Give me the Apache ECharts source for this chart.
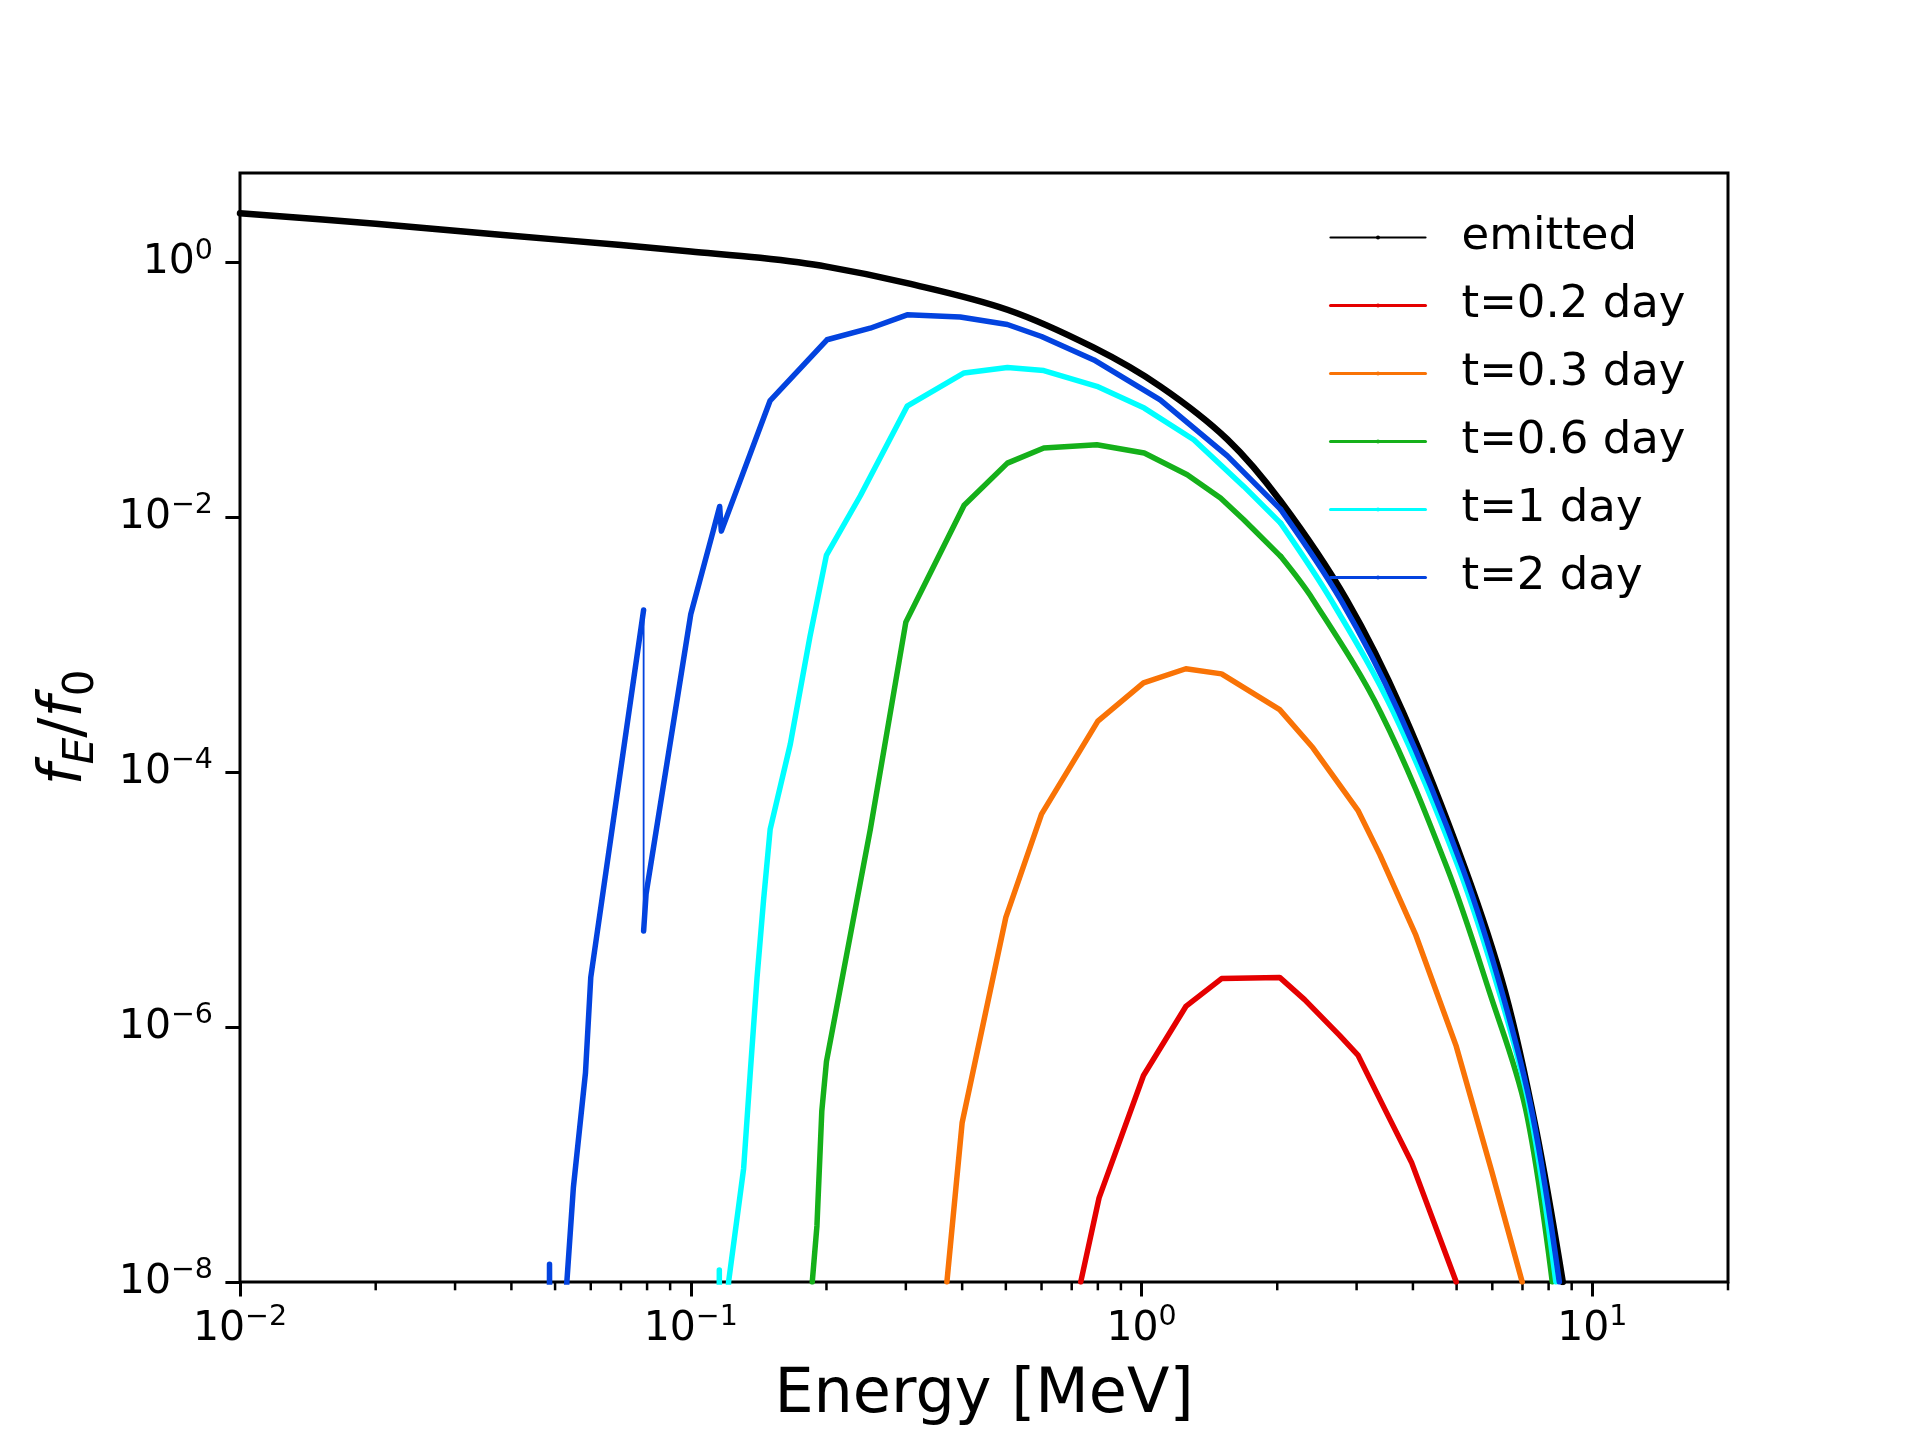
<!DOCTYPE html>
<html>
<head>
<meta charset="utf-8">
<script src="https://cdn.jsdelivr.net/npm/echarts@6/dist/echarts.min.js"></script>
<style>html,body{margin:0;padding:0;background:#fff}#c{width:1920px;height:1440px}</style>
</head>
<body>
<div id="c"></div>
<script>
// ---- axis ranges and ticks ----
const X_MIN = 0.01, X_MAX = 20;
const Y_MIN = 1e-8, Y_MAX = 5;
const X_MAJOR_TICKS = [0.01, 0.1, 1, 10];
const X_MINOR_TICKS = [0.02,0.03,0.04,0.05,0.06,0.07,0.08,0.09,0.2,0.3,0.4,0.5,0.6,0.7,0.8,0.9,2,3,4,5,6,7,8,9,20];
const Y_MAJOR_TICKS = [1e-8, 1e-6, 1e-4, 1e-2, 1];

// ---- series names / colours ----
const NAMES = ['emitted', 't=0.2 day', 't=0.3 day', 't=0.6 day', 't=1 day', 't=2 day'];
const COLORS = ['#000000', '#e50000', '#f97306', '#15b01a', '#00ffff', '#0343df'];

// ---- data: [energy MeV, f_E/f_0] ----
const EMITTED = [[0.01,2.42],[0.02,2.00],[0.0378,1.64],[0.07,1.36],[0.1,1.21],[0.1426,1.08],[0.2,0.922],[0.302,0.684],[0.504,0.423],[0.78,0.215],[1.10,0.106],[1.55,0.0407],[2.035,0.0133],[2.85,2.24e-3],[3.80,2.95e-4],[5.21,1.78e-5],[6.41,1.86e-6],[7.5,1.58e-7],[8.6,1e-8]];

const T02 = [[0.733,1e-8],[0.805,4.57e-8],[1.01,4.17e-7],[1.254,1.45e-6],[1.505,2.40e-6],[2.025,2.45e-6],[2.30,1.64e-6],[2.75,8.61e-7],[3.02,6.03e-7],[3.46,2.29e-7],[3.97,8.71e-8],[4.99,1e-8]];

const T03 = [[0.37,1e-8],[0.4,1.78e-7],[0.5,7.24e-6],[0.6,4.68e-5],[0.8,2.51e-4],[1.01,5.01e-4],[1.254,6.46e-4],[1.505,5.89e-4],[2.025,3.09e-4],[2.40,1.55e-4],[3.02,5.01e-5],[3.38,2.24e-5],[4.06,5.25e-6],[4.99,7.08e-7],[5.98,7.41e-8],[6.99,1e-8]];

const T06 = [[0.186,1e-8],[0.1905,2.75e-8],[0.1953,2.19e-7],[0.2,5.37e-7],[0.2502,3.55e-5],[0.3,1.50e-3],[0.3344,3.24e-3],[0.404,1.24e-2],[0.504,2.65e-2],[0.607,3.48e-2],[0.796,3.69e-2],[1.014,3.18e-2],[1.263,2.15e-2],[1.497,1.41e-2],[1.686,9.53e-3],[2.035,4.92e-3]];
const T06_TAIL = [[2.403,2.24e-3],[3.39,2.95e-4],[4.76,1.78e-5],[5.92,1.86e-6],[7.11,2.29e-7],[8.15,1e-8]];

const T1 = [[0.1155,1e-10],[0.1157,1.24e-8],[0.1159,1e-10],[0.1213,1e-8],[0.131,7.76e-8],[0.1355,4.37e-7],[0.1403,2.45e-6],[0.145,9.77e-6],[0.15,3.55e-5],[0.1663,1.66e-4],[0.1838,1.15e-3],[0.2,5.04e-3],[0.2378,1.47e-2],[0.302,7.41e-2],[0.404,0.135],[0.504,0.149],[0.607,0.141],[0.796,0.106],[1.014,0.0716],[1.306,0.0404],[1.686,0.0174],[2.035,8.97e-3]];
const T1_TAIL = [[2.633,2.24e-3],[3.62,2.95e-4],[5.05,1.78e-5],[6.22,1.86e-6],[7.26,2.29e-7],[8.3,1e-8]];

const T2_LOW = [[0.0484,1e-10],[0.0486,1.38e-8],[0.0488,1e-10],[0.0531,1e-8],[0.0549,5.50e-8],[0.0584,4.37e-7],[0.06,2.45e-6],[0.0786,1.87e-3]];
const T2_HIGH = [[0.0786,5.66e-6],[0.0796,1.11e-5],[0.1,1.73e-3],[0.1123,7.94e-3],[0.1159,1.21e-2],[0.1169,7.76e-3],[0.150,8.20e-2],[0.2005,0.246],[0.25,0.303],[0.302,0.386],[0.396,0.371],[0.504,0.324],[0.6,0.261],[0.784,0.171],[1.10,0.0832],[1.55,0.0302],[2.035,0.0115]];
const T2_TAIL = [[2.766,2.24e-3],[3.72,2.95e-4],[5.15,1.78e-5],[6.31,1.86e-6],[7.38,2.0e-7],[8.45,1e-8]];

// ---- build chart ----
const FONT = 'DejaVu Sans';
const chart = echarts.init(document.getElementById('c'), null, {renderer: 'canvas'});

function powLabel(v) {
  const e = Math.round(Math.log10(v));
  return '{b|10}{s|' + (e < 0 ? '\u2212' + (-e) : String(e)) + '}';
}
const tickRich = {
  b: {fontFamily: FONT, fontSize: 41, lineHeight: 36, color: '#000'},
  s: {fontFamily: FONT, fontSize: 28.5, height: 14, verticalAlign: 'top', color: '#000'}
};

function lineSeries(name, data, color, width, smooth) {
  return {
    name: name, type: 'line', data: data,
    showSymbol: false, symbol: 'circle', symbolSize: 4,
    smooth: smooth || false,
    lineStyle: {color: color, width: width, cap: 'round', join: 'round'},
    itemStyle: {color: color},
    emphasis: {disabled: true},
    silent: true, animation: false
  };
}
function lastOf(a) { return a[a.length - 1]; }

const series = [
  lineSeries(NAMES[0], EMITTED, COLORS[0], 6.5, 0.35),
  lineSeries(NAMES[1], T02, COLORS[1], 5.5),
  lineSeries(NAMES[2], T03, COLORS[2], 5.5),
  lineSeries(NAMES[3], T06, COLORS[3], 5.5),
  lineSeries(NAMES[3], [lastOf(T06)].concat(T06_TAIL), COLORS[3], 5.5, 0.35),
  lineSeries(NAMES[4], T1, COLORS[4], 5.5),
  lineSeries(NAMES[4], [lastOf(T1)].concat(T1_TAIL), COLORS[4], 5.5, 0.35),
  lineSeries(NAMES[5], T2_LOW, COLORS[5], 5.5),
  lineSeries(NAMES[5], T2_HIGH, COLORS[5], 5.5),
  lineSeries(NAMES[5], [lastOf(T2_HIGH)].concat(T2_TAIL), COLORS[5], 5.5, 0.35),
  lineSeries(NAMES[5], [lastOf(T2_LOW), T2_HIGH[0]], COLORS[5], 1.8),
  {
    type: 'custom', silent: true, animation: false, clip: false,
    data: X_MINOR_TICKS.map(v => [v, Y_MIN]),
    renderItem: function (params, api) {
      const p = api.coord([api.value(0), api.value(1)]);
      return {type: 'line', shape: {x1: p[0], y1: p[1], x2: p[0], y2: p[1] + 8.3},
              style: {stroke: '#000', lineWidth: 2.5}};
    }
  }
];

chart.setOption({
  backgroundColor: '#fff',
  animation: false,
  grid: {left: 240, right: 192, top: 173, bottom: 158, show: true, borderColor: '#000', borderWidth: 3,
         backgroundColor: 'transparent', containLabel: false, outerBoundsMode: 'none'},
  legend: {
    orient: 'vertical', left: 1329, top: 215, padding: 0,
    itemWidth: 95, itemHeight: 5, itemGap: 23, selectedMode: false,
    textStyle: {fontFamily: FONT, fontSize: 45, lineHeight: 45, color: '#000', padding: [0, 0, 0, 31]},
    data: NAMES.map((n, i) => ({name: n, lineStyle: {width: i === 0 ? 2.2 : 3}}))
  },
  xAxis: {
    type: 'log', logBase: 10, min: X_MIN, max: X_MAX,
    name: 'Energy [MeV]', nameLocation: 'middle', nameGap: 83,
    nameTextStyle: {fontFamily: FONT, fontSize: 62, color: '#000'},
    axisLine: {show: false},
    axisTick: {show: true, length: 14.6, inside: false, lineStyle: {color: '#000', width: 3}, customValues: X_MAJOR_TICKS},
    minorTick: {show: false},
    axisLabel: {margin: 29, formatter: powLabel, rich: tickRich, customValues: X_MAJOR_TICKS},
    splitLine: {show: false}
  },
  yAxis: {
    type: 'log', logBase: 10, min: Y_MIN, max: Y_MAX,
    name: '{i|f}{si|E}{u|/}{i|f}{s0|0}', nameLocation: 'middle', nameGap: 137, nameRotate: 90,
    nameTextStyle: {
      fontFamily: FONT, fontSize: 60, color: '#000',
      rich: {
        i: {fontFamily: FONT, fontSize: 60, fontStyle: 'italic', lineHeight: 60, verticalAlign: 'top', color: '#000'},
        u: {fontFamily: FONT, fontSize: 60, lineHeight: 60, verticalAlign: 'top', color: '#000'},
        si: {fontFamily: FONT, fontSize: 42, fontStyle: 'italic', lineHeight: 68, verticalAlign: 'bottom', color: '#000'},
        s0: {fontFamily: FONT, fontSize: 42, lineHeight: 68, verticalAlign: 'bottom', color: '#000'}
      }
    },
    axisLine: {show: false},
    axisTick: {show: true, length: 14.6, lineStyle: {color: '#000', width: 3}, customValues: Y_MAJOR_TICKS},
    minorTick: {show: false},
    axisLabel: {margin: 27, formatter: powLabel, rich: tickRich, customValues: Y_MAJOR_TICKS},
    splitLine: {show: false}
  },
  series: series
});
</script>
</body>
</html>
